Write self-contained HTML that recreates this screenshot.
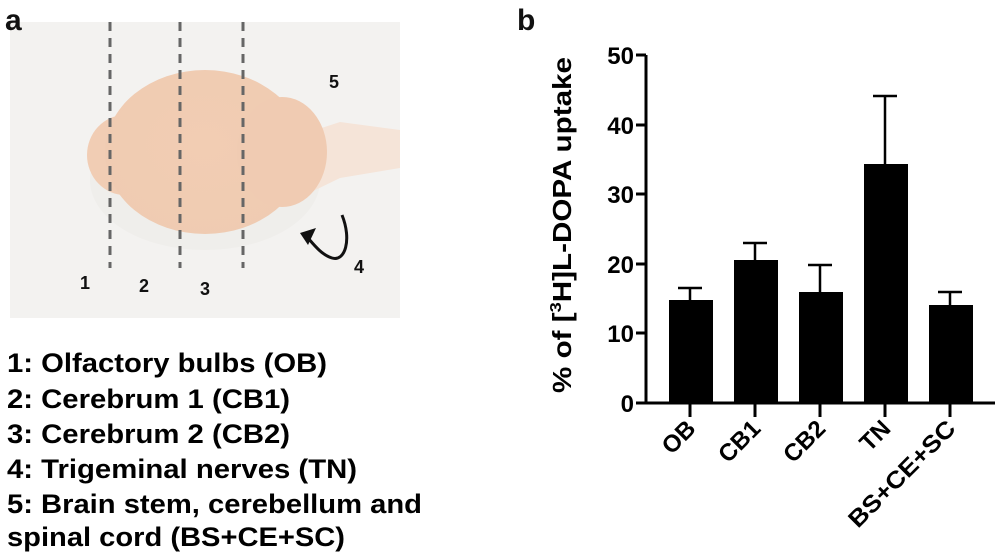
<!DOCTYPE html>
<html><head><style>body{margin:0;background:#fff}svg{display:block}</style></head><body>
<svg width="1000" height="558" xmlns="http://www.w3.org/2000/svg" font-family="Liberation Sans, Arial, sans-serif" font-weight="bold">
<defs>
<radialGradient id="br" cx="0.5" cy="0.45" r="0.6"><stop offset="0" stop-color="#f2cdb3"/><stop offset="1" stop-color="#efcbb2"/></radialGradient>
</defs>
<rect x="10" y="22" width="390" height="296" fill="#f3f2f0"/>
<ellipse cx="205" cy="180" rx="115" ry="70" fill="#ebe9e6" opacity="0.5"/>
<path d="M300 135 L340 122 L400 130 L400 168 L340 178 L305 195 Z" fill="#f5e4d8"/>
<ellipse cx="125" cy="155" rx="38" ry="40" fill="#f1cdb4"/>
<ellipse cx="205" cy="152" rx="100" ry="82" fill="url(#br)"/>
<ellipse cx="282" cy="152" rx="45" ry="55" fill="#f0cbb2"/>
<text x="5" y="30" font-size="30" fill="#111">a</text>
<g stroke="#666" stroke-width="3" stroke-dasharray="9,7">
<line x1="110" y1="22" x2="110" y2="268"/><line x1="180" y1="22" x2="180" y2="268"/><line x1="243" y1="22" x2="243" y2="268"/></g>
<g font-size="18" fill="#111"><text x="80" y="289">1</text><text x="139" y="292">2</text><text x="200" y="295">3</text><text x="329" y="88">5</text><text x="354" y="273">4</text></g>
<path d="M342 215 C352 240 345 262 332 258 C322 255 314 245 308 238" fill="none" stroke="#111" stroke-width="3"/>
<path d="M300 233 L316 228 L308 245 Z" fill="#111"/>
<g font-size="27" fill="#000">
<text x="7" y="372" textLength="320" lengthAdjust="spacingAndGlyphs">1: Olfactory bulbs (OB)</text>
<text x="7" y="408" textLength="283" lengthAdjust="spacingAndGlyphs">2: Cerebrum 1 (CB1)</text>
<text x="7" y="443" textLength="283" lengthAdjust="spacingAndGlyphs">3: Cerebrum 2 (CB2)</text>
<text x="7" y="478" textLength="350" lengthAdjust="spacingAndGlyphs">4: Trigeminal nerves (TN)</text>
<text x="7" y="513" textLength="415" lengthAdjust="spacingAndGlyphs">5: Brain stem, cerebellum and</text>
<text x="7" y="546" textLength="338" lengthAdjust="spacingAndGlyphs">spinal cord (BS+CE+SC)</text>
</g>
<text x="517" y="30" font-size="30" fill="#111">b</text>
<g stroke="#000" stroke-width="3" fill="none">
<line x1="646" y1="55" x2="646" y2="404"/><line x1="645" y1="403" x2="995" y2="403"/>
<line x1="636" y1="55" x2="646" y2="55"/><line x1="636" y1="125" x2="646" y2="125"/><line x1="636" y1="194" x2="646" y2="194"/><line x1="636" y1="264" x2="646" y2="264"/><line x1="636" y1="333" x2="646" y2="333"/><line x1="636" y1="403" x2="646" y2="403"/>
<line x1="690" y1="403" x2="690" y2="417"/><line x1="755" y1="403" x2="755" y2="417"/><line x1="820" y1="403" x2="820" y2="417"/><line x1="885" y1="403" x2="885" y2="417"/><line x1="950" y1="403" x2="950" y2="417"/>
<path d="M690 300V288M678 288H702M755 260V243M743 243H767M820 292V265M808 265H832M885 164V96M873 96H897M950 305V292M938 292H962" stroke-width="2.5"/>
</g>
<g fill="#000">
<rect x="669" y="300" width="44" height="103"/><rect x="734" y="260" width="44" height="143"/><rect x="799" y="292" width="44" height="111"/><rect x="864" y="164" width="44" height="239"/><rect x="929" y="305" width="44" height="98"/>
</g>
<g font-size="24" text-anchor="end" fill="#000">
<text x="634" y="64">50</text><text x="634" y="134">40</text><text x="634" y="203">30</text><text x="634" y="273">20</text><text x="634" y="342">10</text><text x="634" y="412">0</text>
</g>
<text transform="translate(571,225) rotate(-90)" font-size="26" text-anchor="middle" textLength="336" lengthAdjust="spacingAndGlyphs">% of [<tspan font-size="16" dy="-10">3</tspan><tspan dy="10">H]L-DOPA uptake</tspan></text>
<g font-size="24" text-anchor="end">
<text transform="translate(697,430) rotate(-45)">OB</text>
<text transform="translate(762,430) rotate(-45)">CB1</text>
<text transform="translate(827,430) rotate(-45)">CB2</text>
<text transform="translate(892,430) rotate(-45)">TN</text>
<text transform="translate(957,430) rotate(-45)" textLength="140" lengthAdjust="spacingAndGlyphs">BS+CE+SC</text>
</g>
</svg>
</body></html>
